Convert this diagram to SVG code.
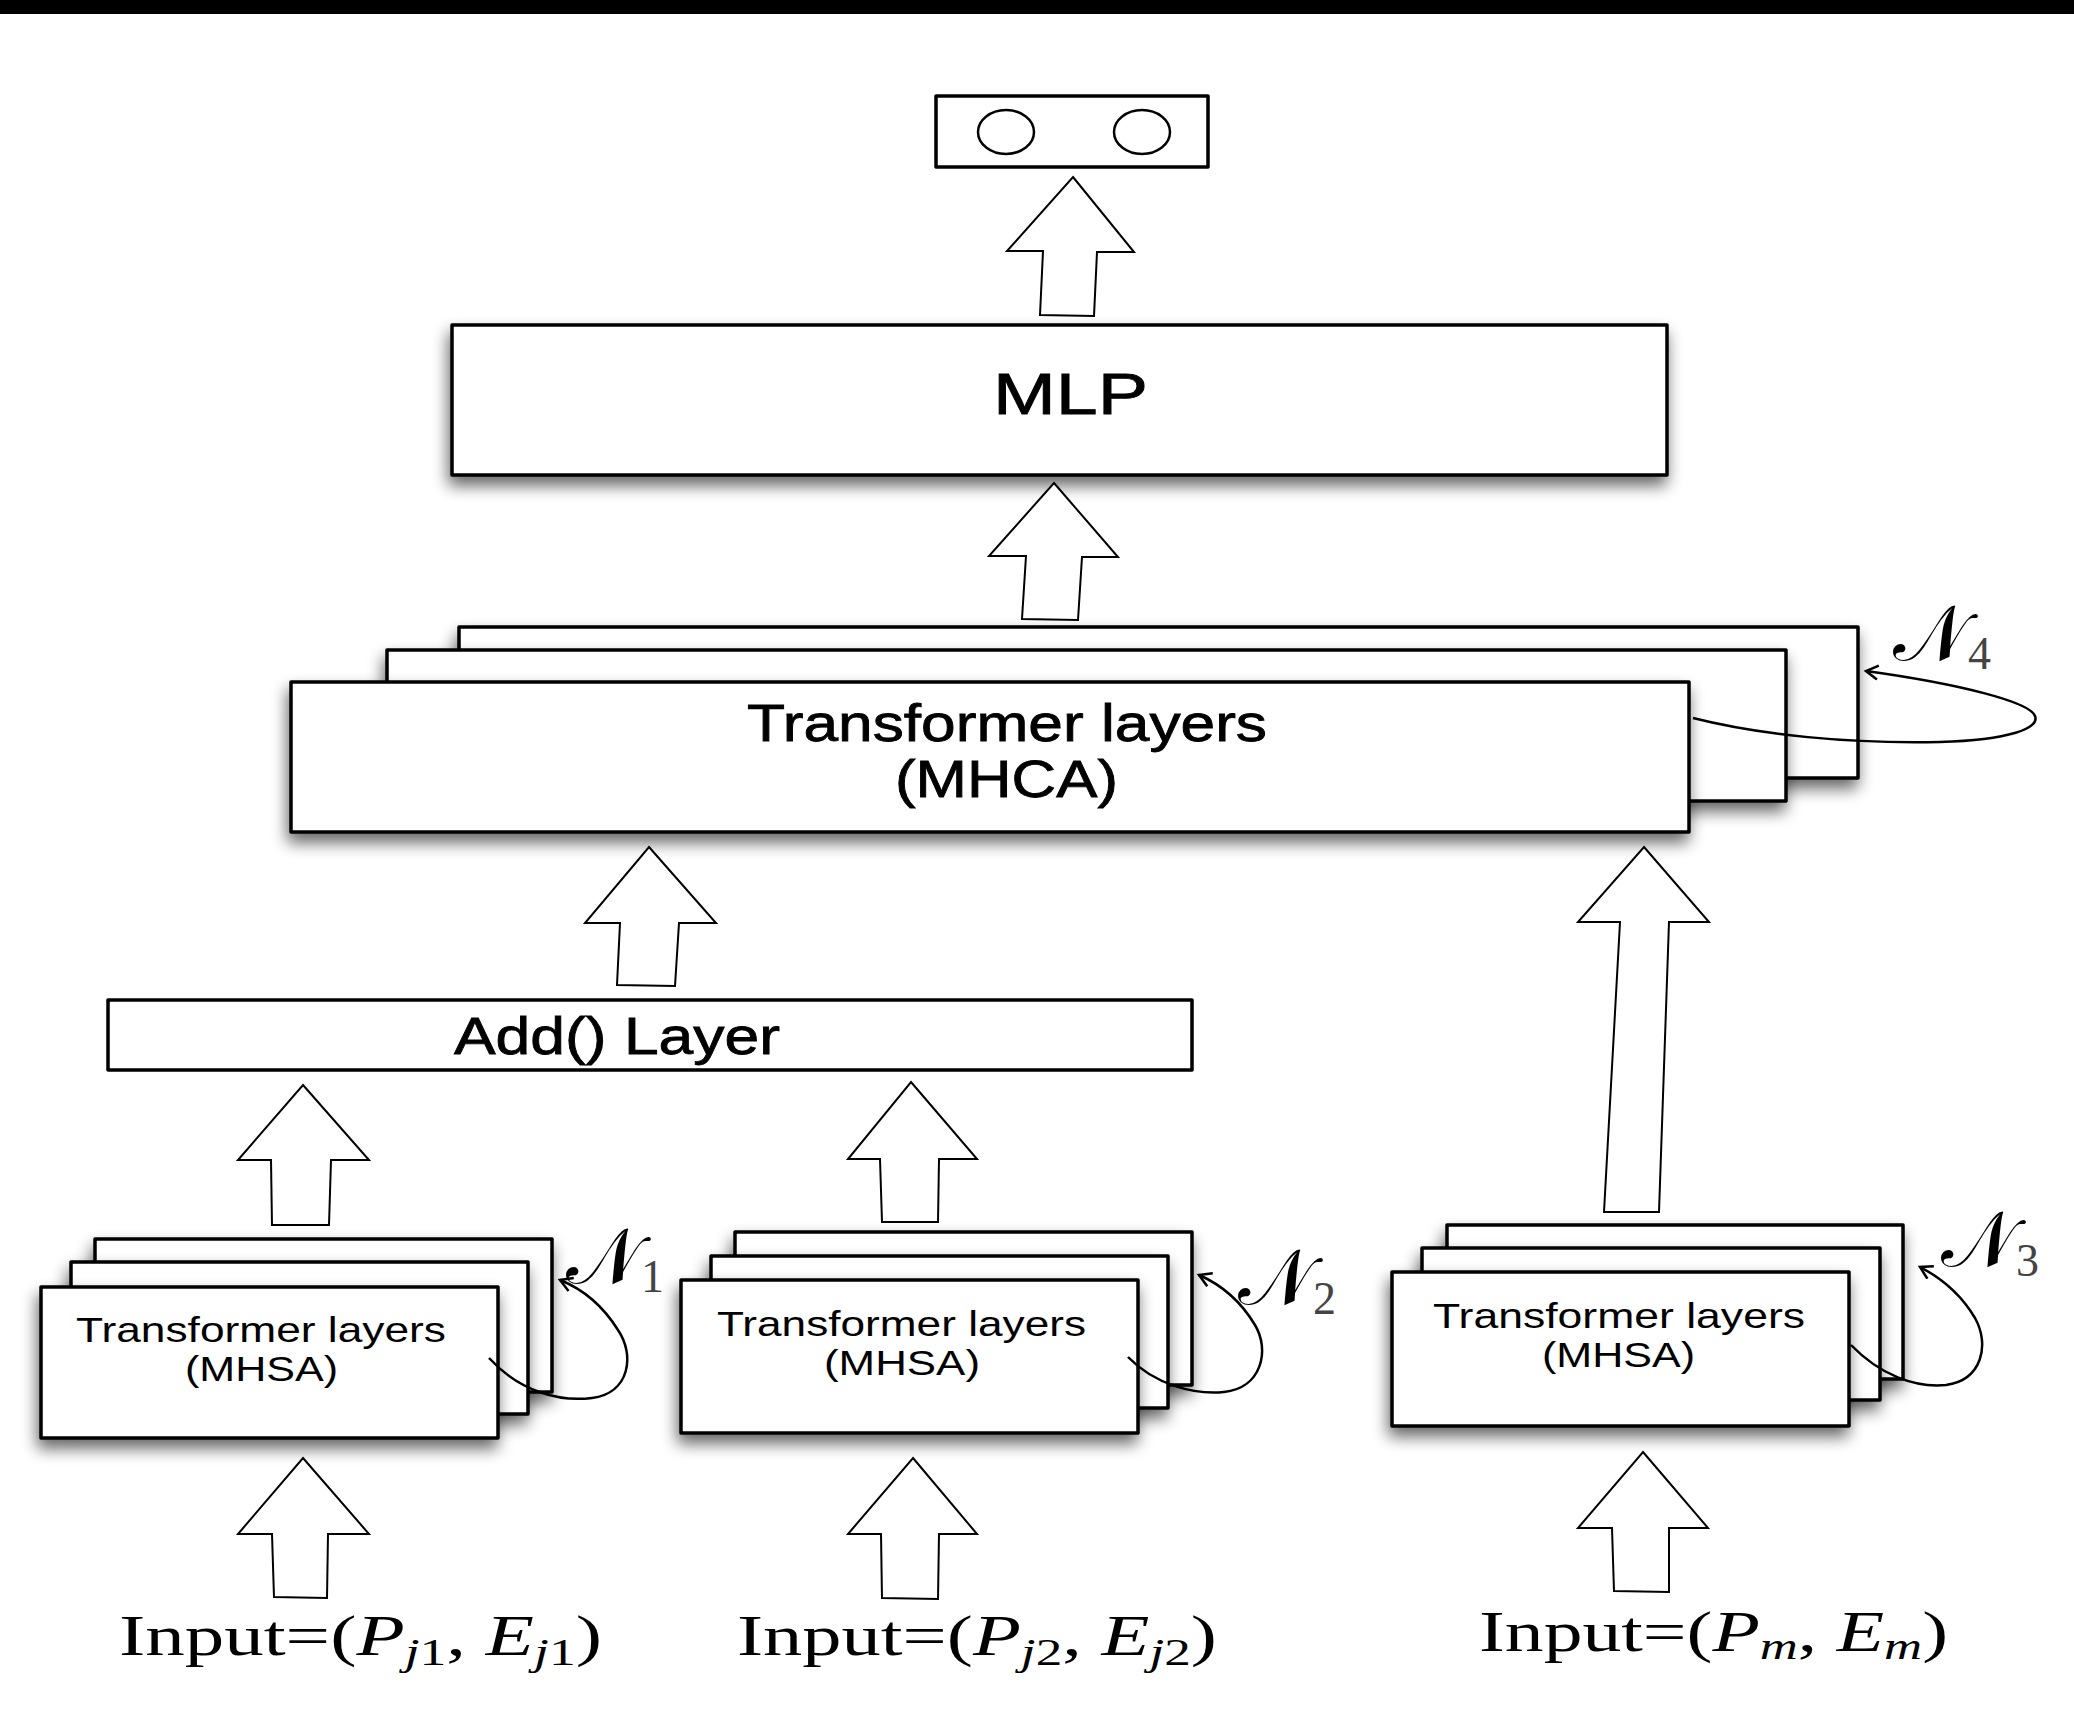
<svg xmlns="http://www.w3.org/2000/svg" width="2074" height="1728" viewBox="0 0 2074 1728">
<defs>
<style>
.box{fill:#fff;stroke:#000;stroke-width:3.5;stroke-linejoin:round}
.arr{fill:#fff;stroke:#000;stroke-width:2;stroke-linejoin:miter}
.loop{fill:none;stroke:#000;stroke-width:2.5}
.big{font-family:"Liberation Sans",Arial,sans-serif;fill:#000;stroke:#000;stroke-width:0.8}
.sm{font-family:"Liberation Sans",Arial,sans-serif;font-size:35px;fill:#000}
.inp{font-family:"Liberation Serif","DejaVu Serif",serif;font-size:56px;fill:#000}
.it{font-style:italic}
.sub{font-size:38px}
.nl{font-family:"DejaVu Serif","DejaVu Sans",serif;font-size:78px;fill:#000}
.ns{font-family:"Liberation Serif",serif;font-size:46px;fill:#444}
</style>
<filter id="sh" x="-10%" y="-30%" width="120%" height="170%">
<feGaussianBlur in="SourceAlpha" stdDeviation="8"/>
<feOffset dx="-2" dy="9" result="b"/>
<feComponentTransfer><feFuncA type="linear" slope="0.6"/></feComponentTransfer>
<feMerge><feMergeNode/><feMergeNode in="SourceGraphic"/></feMerge>
</filter>
<marker id="ah" markerWidth="24" markerHeight="24" refX="14" refY="8" orient="auto" markerUnits="userSpaceOnUse">
<path d="M2,1 L14,8 L2,15" fill="none" stroke="#000" stroke-width="2.5"/>
</marker>
</defs>
<rect x="0" y="0" width="2074" height="1728" fill="#fff"/>
<rect x="0" y="0" width="2074" height="14" fill="#000"/>

<g id="output">
<rect class="box" x="936" y="96" width="272" height="71"/>
<ellipse cx="1006" cy="132" rx="28" ry="22" fill="none" stroke="#000" stroke-width="2.5"/>
<ellipse cx="1142" cy="132" rx="28" ry="22" fill="none" stroke="#000" stroke-width="2.5"/>
</g>

<g id="mlp">
<rect class="box" x="452" y="325" width="1215" height="150" filter="url(#sh)"/>
<text class="big" x="993" y="414" font-size="58" textLength="155" lengthAdjust="spacingAndGlyphs">MLP</text>
</g>

<g id="mhca">
<rect class="box" x="459" y="627" width="1399" height="151" filter="url(#sh)"/>
<rect class="box" x="387" y="650" width="1399" height="151" filter="url(#sh)"/>
<rect class="box" x="291" y="682" width="1398" height="150" filter="url(#sh)"/>
<text class="big" x="747" y="741" font-size="52" textLength="520" lengthAdjust="spacingAndGlyphs">Transformer layers</text>
<text class="big" x="895" y="797" font-size="52" textLength="223" lengthAdjust="spacingAndGlyphs">(MHCA)</text>
</g>

<g id="add">
<rect class="box" x="108" y="1000" width="1084" height="70"/>
<text class="big" x="454" y="1054" font-size="52" textLength="326" lengthAdjust="spacingAndGlyphs">Add() Layer</text>
</g>

<g id="mhsa1">
<rect class="box" x="95" y="1239" width="457" height="153" filter="url(#sh)"/>
<rect class="box" x="71" y="1262" width="457" height="152" filter="url(#sh)"/>
<rect class="box" x="41" y="1287" width="457" height="151" filter="url(#sh)"/>
<text class="sm" x="76" y="1342" textLength="370" lengthAdjust="spacingAndGlyphs">Transformer layers</text>
<text class="sm" x="185" y="1381" textLength="153" lengthAdjust="spacingAndGlyphs">(MHSA)</text>
</g>

<g id="mhsa2">
<rect class="box" x="735" y="1232" width="457" height="153" filter="url(#sh)"/>
<rect class="box" x="711" y="1256" width="457" height="152" filter="url(#sh)"/>
<rect class="box" x="681" y="1280" width="457" height="153" filter="url(#sh)"/>
<text class="sm" x="717" y="1336" textLength="369" lengthAdjust="spacingAndGlyphs">Transformer layers</text>
<text class="sm" x="824" y="1375" textLength="156" lengthAdjust="spacingAndGlyphs">(MHSA)</text>
</g>

<g id="mhsa3">
<rect class="box" x="1447" y="1225" width="456" height="154" filter="url(#sh)"/>
<rect class="box" x="1422" y="1248" width="458" height="152" filter="url(#sh)"/>
<rect class="box" x="1392" y="1272" width="457" height="154" filter="url(#sh)"/>
<text class="sm" x="1433" y="1328" textLength="372" lengthAdjust="spacingAndGlyphs">Transformer layers</text>
<text class="sm" x="1542" y="1367" textLength="153" lengthAdjust="spacingAndGlyphs">(MHSA)</text>
</g>

<g id="labels">
<text x="1893" y="660"><tspan class="nl">𝒩</tspan><tspan class="ns" dy="9">4</tspan></text>
<text x="566" y="1283"><tspan class="nl">𝒩</tspan><tspan class="ns" dy="9">1</tspan></text>
<text x="1238" y="1304"><tspan class="nl">𝒩</tspan><tspan class="ns" dy="10">2</tspan></text>
<text x="1941" y="1266"><tspan class="nl">𝒩</tspan><tspan class="ns" dy="10">3</tspan></text>
<text class="inp" x="119" y="1655" textLength="483" lengthAdjust="spacingAndGlyphs">Input=(<tspan class="it">P</tspan><tspan class="sub" dy="10"><tspan class="it">j</tspan>1</tspan><tspan dy="-10">, </tspan><tspan class="it">E</tspan><tspan class="sub" dy="10"><tspan class="it">j</tspan>1</tspan><tspan dy="-10">)</tspan></text>
<text class="inp" x="737" y="1655" textLength="480" lengthAdjust="spacingAndGlyphs">Input=(<tspan class="it">P</tspan><tspan class="sub" dy="10"><tspan class="it">j</tspan>2</tspan><tspan dy="-10">, </tspan><tspan class="it">E</tspan><tspan class="sub" dy="10"><tspan class="it">j</tspan>2</tspan><tspan dy="-10">)</tspan></text>
<text class="inp" x="1479" y="1651" textLength="469" lengthAdjust="spacingAndGlyphs">Input=(<tspan class="it">P</tspan><tspan class="sub it" dy="8">m</tspan><tspan dy="-8">, </tspan><tspan class="it">E</tspan><tspan class="sub it" dy="8">m</tspan><tspan dy="-8">)</tspan></text>
</g>

<g id="connectors">
<polygon class="arr" points="1073,177 1134,252 1097,252 1094,316 1040,315 1043,251 1007,251"/>
<polygon class="arr" points="1054,483 1118,557 1082,557 1078,620 1022,619 1026,556 989,556"/>
<polygon class="arr" points="649,847 716,923 679,923 675,986 617,985 620,923 585,923"/>
<polygon class="arr" points="1644,847 1709,922 1669,922 1659,1212 1604,1212 1620,922 1578,922"/>
<polygon class="arr" points="303,1085 369,1160 331,1160 329,1225 272,1225 271,1160 238,1160"/>
<polygon class="arr" points="911,1082 977,1159 939,1159 938,1222 882,1222 880,1159 848,1159"/>
<polygon class="arr" points="303,1458 369,1534 328,1534 327,1598 274,1597 272,1534 238,1534"/>
<polygon class="arr" points="913,1458 977,1534 939,1534 938,1599 882,1598 881,1534 848,1534"/>
<polygon class="arr" points="1643,1452 1708,1528 1669,1528 1669,1592 1614,1591 1612,1528 1578,1528"/>
<path class="loop" marker-end="url(#ah)" d="M1693,718 C1760,735 1850,744 1940,742 C2010,740 2040,728 2035,716 C2030,702 1960,684 1866,671"/>
<path class="loop" marker-end="url(#ah)" d="M489,1358 C520,1392 560,1402 592,1398 C630,1393 635,1355 618,1330 C603,1306 585,1290 560,1280"/>
<path class="loop" marker-end="url(#ah)" d="M1128,1357 C1155,1385 1195,1395 1224,1392 C1262,1388 1270,1350 1255,1325 C1240,1300 1222,1285 1199,1275"/>
<path class="loop" marker-end="url(#ah)" d="M1851,1345 C1880,1375 1915,1388 1946,1385 C1982,1380 1990,1345 1975,1318 C1962,1296 1945,1280 1920,1267"/>
</g>
</svg>
